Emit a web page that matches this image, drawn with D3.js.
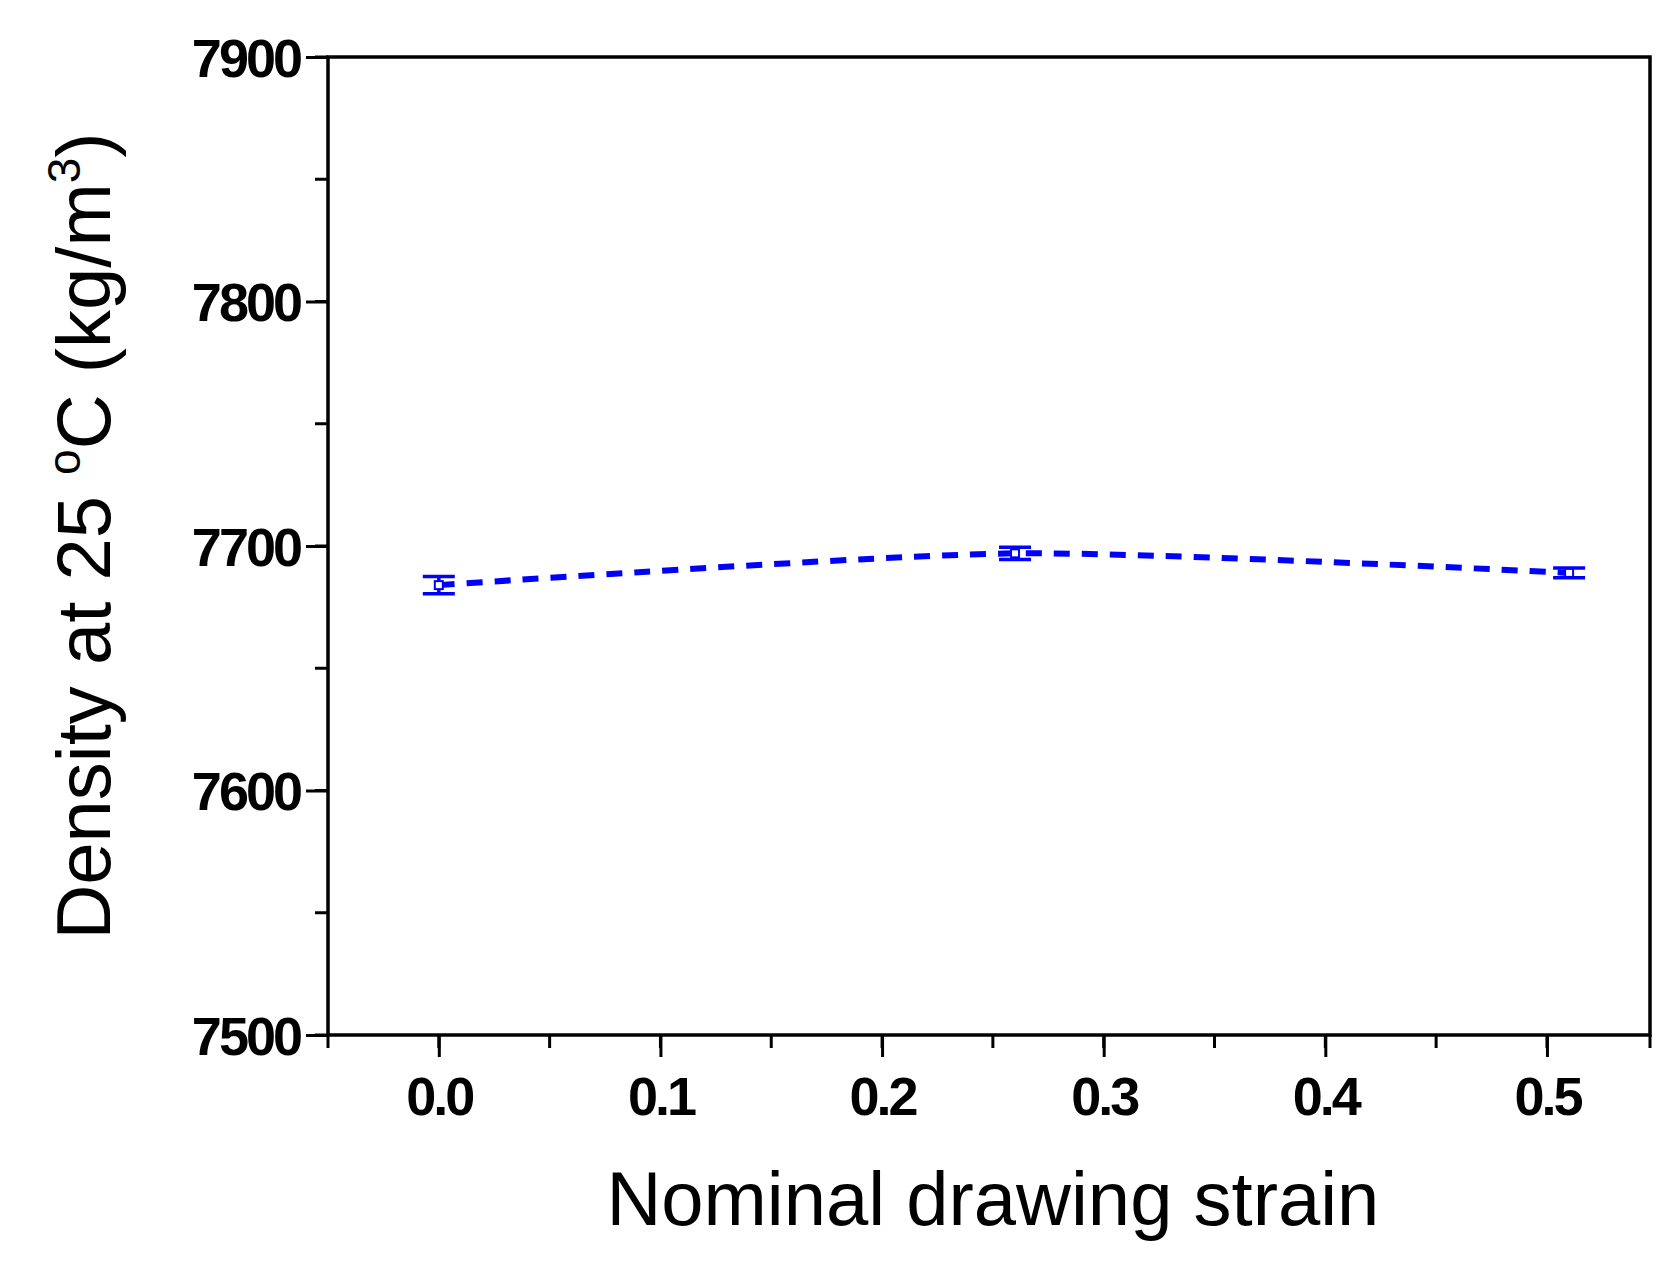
<!DOCTYPE html>
<html><head><meta charset="utf-8">
<script src="https://cdn.jsdelivr.net/npm/d3@7"></script>
<style>body{margin:0;background:#fff}svg{display:block}text{font-family:"Liberation Sans",Arial,sans-serif}</style>
</head><body><svg width="1676" height="1262"></svg>
<script>
const strain = [0, 0.26, 0.51];
const density = [7684, 7697, 7689];
const errs = [3.5, 2.5, 2];
const yTicks = [7500, 7600, 7700, 7800, 7900];
const xTicks = [0, 0.1, 0.2, 0.3, 0.4, 0.5];

let svg = d3.select("svg"),
    margin = {top: 57, right: 26, bottom: 227, left: 328},
    width = 1676 - margin.left - margin.right,
    height = 1262 - margin.top - margin.bottom,
    g = svg.append("g").attr("transform", "translate(" + margin.left + "," + margin.top + ")");

let x = d3.scaleLinear().domain([-0.05, 0.5465]).range([0, width]);
let y = d3.scaleLinear().domain([7500, 7900]).range([height, 0]);

g.append("rect").attr("width", width).attr("height", height)
    .attr("fill", "none").attr("stroke", "#000").attr("stroke-width", 3.5);

// minor ticks
g.append("g").attr("transform", "translate(0," + height + ")")
    .selectAll("line").data(d3.range(-0.05, 0.54, 0.05))
    .join("line").attr("x1", d => x(d)).attr("x2", d => x(d))
    .attr("y1", 0).attr("y2", 13).attr("stroke", "#000").attr("stroke-width", 3);
g.append("g").selectAll("line").data(d3.range(7500, 7901, 50))
    .join("line").attr("y1", d => y(d)).attr("y2", d => y(d))
    .attr("x1", 0).attr("x2", -13).attr("stroke", "#000").attr("stroke-width", 3);
g.append("line").attr("x1", width).attr("x2", width).attr("y1", height).attr("y2", height + 13)
    .attr("stroke", "#000").attr("stroke-width", 3);

let xAxis = g.append("g").attr("transform", "translate(0," + height + ")")
    .call(d3.axisBottom(x).tickValues(xTicks).tickFormat(d3.format(".1f")).tickSize(22).tickPadding(20));
let yAxis = g.append("g")
    .call(d3.axisLeft(y).tickValues(yTicks).tickFormat(d3.format("d")).tickSize(22).tickPadding(6));
[xAxis, yAxis].forEach(a => {
    a.select(".domain").remove();
    a.selectAll("line").attr("stroke-width", 3);
    a.selectAll("text").attr("font-size", 54).attr("font-weight", "bold")
        .attr("letter-spacing", -3)
        .attr("font-family", "Liberation Sans, Arial, sans-serif").attr("fill", "#000");
});
yAxis.selectAll("text").attr("dy", "0.36em");

let pts = strain.map((s, i) => [x(s), y(density[i])]);
g.append("path").attr("d", d3.line().curve(d3.curveCardinal.tension(0.3))(pts))
    .attr("fill", "none").attr("stroke", "#0000ff").attr("stroke-width", 6)
    .attr("stroke-dasharray", "16,12");

let eb = g.append("g").attr("stroke", "#0000ff").attr("stroke-width", 3.5);
strain.forEach((s, i) => {
    let cx = x(s), t = y(density[i] + errs[i]), b = y(density[i] - errs[i]);
    eb.append("line").attr("x1", cx).attr("x2", cx).attr("y1", t).attr("y2", b);
    eb.append("line").attr("x1", cx - 16).attr("x2", cx + 16).attr("y1", t).attr("y2", t);
    eb.append("line").attr("x1", cx - 16).attr("x2", cx + 16).attr("y1", b).attr("y2", b);
    eb.append("rect").attr("x", cx - 4).attr("y", y(density[i]) - 4).attr("width", 8).attr("height", 8)
        .attr("fill", "#fff").attr("stroke-width", 2);
});

svg.append("text").attr("x", margin.left + x(0.25)).attr("y", 1225)
    .attr("text-anchor", "middle").attr("font-size", 76).attr("fill", "#000")
    .text("Nominal drawing strain");

let yl = svg.append("text").attr("transform", "translate(110," + (margin.top + height / 2 - 10) + ") rotate(-90)")
    .attr("text-anchor", "middle").attr("font-size", 76).attr("fill", "#000");
yl.append("tspan").text("Density at 25 ");
yl.append("tspan").attr("font-size", 46).attr("dy", -30).text("o");
yl.append("tspan").attr("dy", 30).text("C  (kg/m");
yl.append("tspan").attr("font-size", 46).attr("dy", -30).text("3");
yl.append("tspan").attr("dy", 30).text(")");
</script></body></html>
